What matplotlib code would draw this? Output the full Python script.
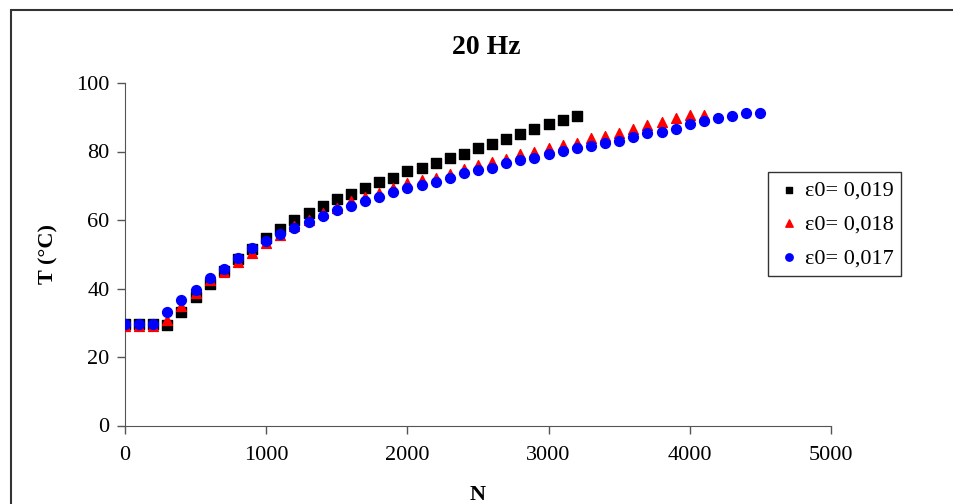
import matplotlib.pyplot as plt
from matplotlib.patches import Rectangle

# cycles (N) for each series, every 100 cycles
n_019 = list(range(0, 3201, 100))
n_018 = list(range(0, 4101, 100))
n_017 = list(range(0, 4501, 100))

t_019 = [29.5, 29.5, 29.5, 29.4, 33.1, 37.4, 41.4, 45.0, 48.5, 51.5,
         54.8, 57.5, 60.0, 62.1, 64.1, 66.0, 67.7, 69.4, 71.1, 72.4,
         74.2, 75.3, 76.7, 78.0, 79.4, 81.0, 82.3, 83.6, 85.0, 86.5,
         87.9, 89.1, 90.5]

t_018 = [29.0, 29.0, 29.0, 30.7, 34.8, 38.7, 42.4, 44.8, 47.8, 50.4,
         53.3, 55.6, 58.2, 59.9, 61.9, 63.6, 65.5, 66.6, 67.9, 69.2,
         70.7, 71.6, 72.4, 73.4, 74.8, 76.0, 77.0, 77.7, 79.2, 79.9,
         80.9, 81.9, 82.4, 83.8, 84.5, 85.5, 86.7, 87.7, 88.5, 89.7,
         90.6, 90.6]

t_017 = [29.7, 29.7, 29.7, 33.1, 36.5, 39.6, 43.0, 45.8, 49.0, 51.7,
         53.9, 56.0, 57.8, 59.4, 61.2, 62.9, 64.1, 65.5, 66.8, 68.1,
         69.4, 70.2, 71.1, 72.4, 73.8, 74.6, 75.3, 76.7, 77.5, 78.0,
         79.3, 80.2, 81.0, 81.5, 82.4, 83.2, 84.1, 85.3, 85.8, 86.5,
         87.9, 88.8, 89.7, 90.5, 91.3, 91.3]

labels = ['ε0= 0,019', 'ε0= 0,018', 'ε0= 0,017']

plt.rcParams['font.family'] = ['Liberation Serif', 'DejaVu Serif']

fig = plt.figure(figsize=(9.54, 5.04), dpi=100)
ax = fig.add_axes([125 / 954, (504 - 425.5) / 504, 706 / 954, 342.5 / 504])

ax.scatter(n_019, t_019, marker='s', s=42, color='black', label=labels[0], zorder=3)
ax.scatter(n_018, t_018, marker='^', s=50, color='red', label=labels[1], zorder=4)
ax.scatter(n_017, t_017, marker='o', s=50, color='blue', label=labels[2], zorder=5)

ax.set_xlim(0, 5000)
ax.set_ylim(0, 100)
ax.set_xticks(range(0, 5001, 1000))
ax.set_yticks(range(0, 101, 20))
for side in ['top', 'right']:
    ax.spines[side].set_visible(False)
for side in ['left', 'bottom']:
    ax.spines[side].set_color('#555555')
ax.tick_params(direction='out', length=6, width=1, color='#555555', labelsize=16)
ax.tick_params(axis='x', pad=9)
ax.tick_params(axis='y', pad=5)

ax.set_xlabel('N', fontsize=16, fontweight='bold', labelpad=14)
ax.set_ylabel('T (°C)', fontsize=16, fontweight='bold', labelpad=13)
fig.text(486 / 954, 1 - 47 / 504, '20 Hz', ha='center', va='center', fontsize=20, fontweight='bold')

leg = ax.legend(loc='upper left', bbox_to_anchor=(768 / 954, 1 - 172 / 504), bbox_transform=fig.transFigure,
                fontsize=16, frameon=True, fancybox=False, edgecolor='black', handletextpad=0.1,
                borderpad=0.35, labelspacing=0.6, handlelength=1.2, markerscale=0.75,
                borderaxespad=0)
leg.get_frame().set_linewidth(1)

fig.patches.append(Rectangle((11 / 954, -0.1), 1.2, 1.1 - 10 / 504, transform=fig.transFigure,
                             fill=False, edgecolor='#333333', linewidth=1.5))

fig.savefig('out.png', dpi=100)
